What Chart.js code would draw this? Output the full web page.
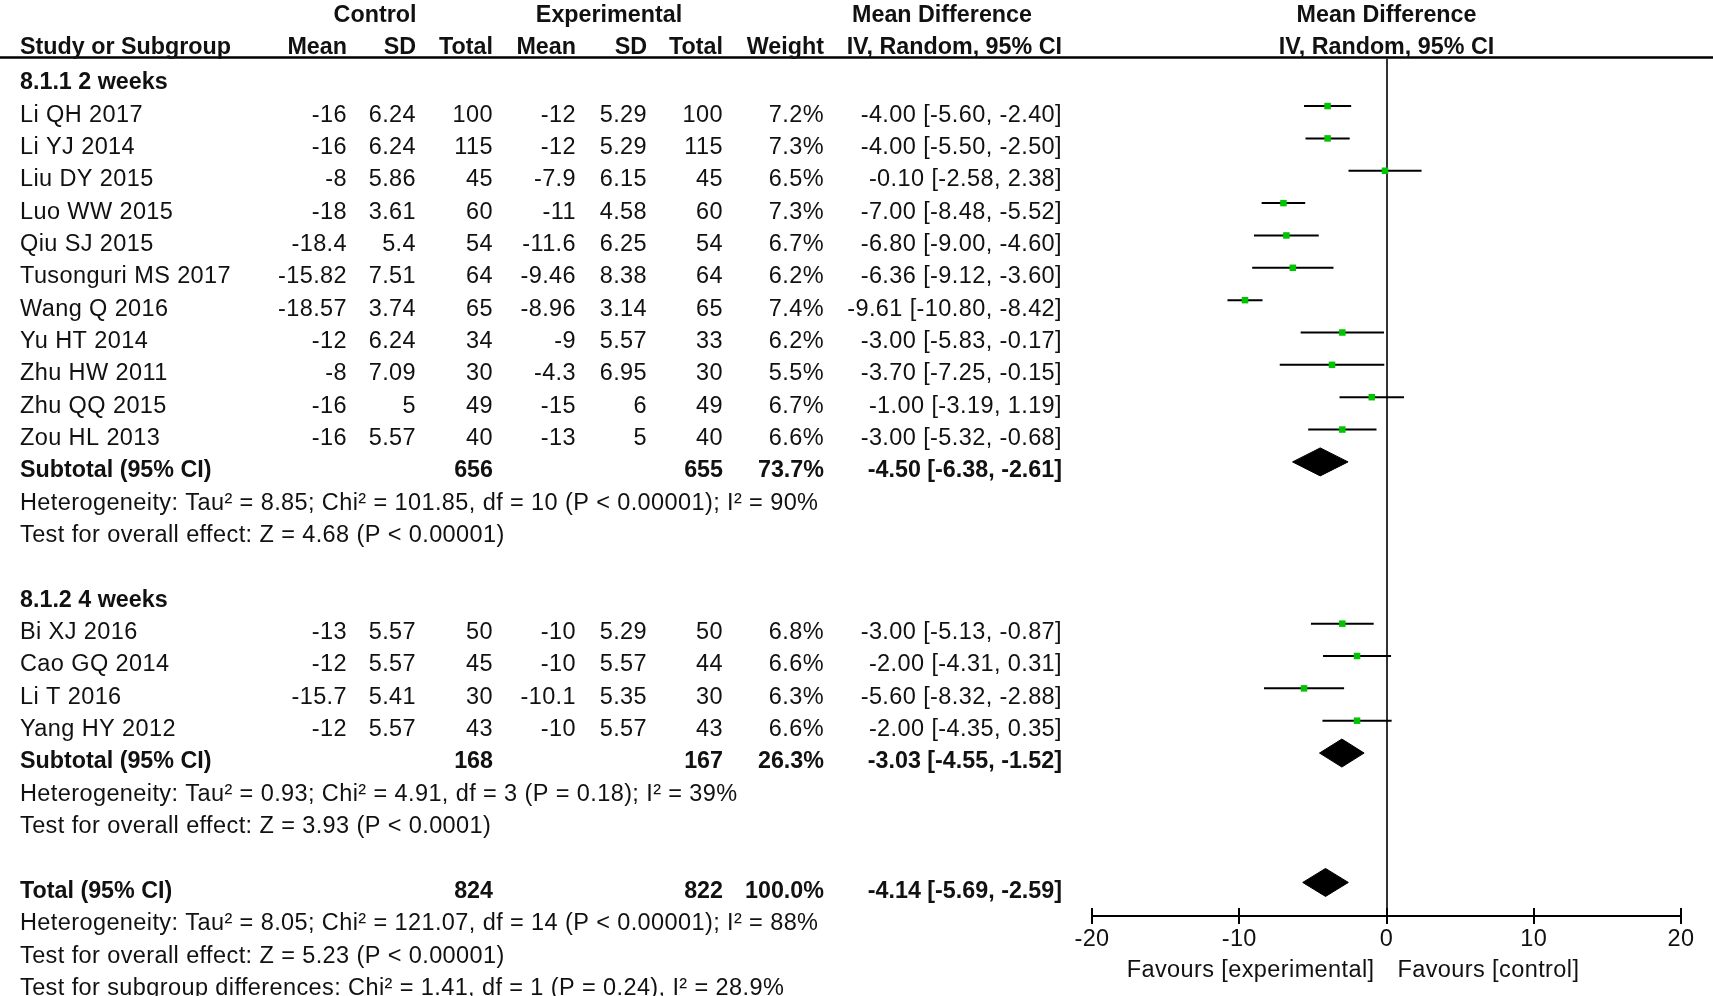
<!DOCTYPE html>
<html>
<head>
<meta charset="utf-8">
<script src="https://cdn.jsdelivr.net/npm/chart.js@4.4.0/dist/chart.umd.min.js"></script>
<style>
html, body { margin: 0; padding: 0; background: #fff; }
#wrap { width: 1713px; height: 996px; position: relative; }
</style>
</head>
<body>
<div id="wrap"><canvas id="forest"></canvas></div>
<script>
// data
var groupTitles = ["8.1.1 2 weeks", "8.1.2 4 weeks"];
var studyNames = ["Li QH 2017", "Li YJ 2014", "Liu DY 2015", "Luo WW 2015", "Qiu SJ 2015", "Tusonguri MS 2017",
    "Wang Q 2016", "Yu HT 2014", "Zhu HW 2011", "Zhu QQ 2015", "Zou HL 2013",
    "Bi XJ 2016", "Cao GQ 2014", "Li T 2016", "Yang HY 2012"];
var studyGroup = [0, 0, 0, 0, 0, 0, 0, 0, 0, 0, 0, 1, 1, 1, 1];
var ctrlMean = [-16, -16, -8, -18, -18.4, -15.82, -18.57, -12, -8, -16, -16, -13, -12, -15.7, -12];
var ctrlSD = [6.24, 6.24, 5.86, 3.61, 5.4, 7.51, 3.74, 6.24, 7.09, 5, 5.57, 5.57, 5.57, 5.41, 5.57];
var ctrlTotal = [100, 115, 45, 60, 54, 64, 65, 34, 30, 49, 40, 50, 45, 30, 43];
var expMean = [-12, -12, -7.9, -11, -11.6, -9.46, -8.96, -9, -4.3, -15, -13, -10, -10, -10.1, -10];
var expSD = [5.29, 5.29, 6.15, 4.58, 6.25, 8.38, 3.14, 5.57, 6.95, 6, 5, 5.29, 5.57, 5.35, 5.57];
var expTotal = [100, 115, 45, 60, 54, 64, 65, 33, 30, 49, 40, 50, 44, 30, 43];
var weights = [7.2, 7.3, 6.5, 7.3, 6.7, 6.2, 7.4, 6.2, 5.5, 6.7, 6.6, 6.8, 6.6, 6.3, 6.6];
var md = [-4.00, -4.00, -0.10, -7.00, -6.80, -6.36, -9.61, -3.00, -3.70, -1.00, -3.00, -3.00, -2.00, -5.60, -2.00];
var ciLow = [-5.60, -5.50, -2.58, -8.48, -9.00, -9.12, -10.80, -5.83, -7.25, -3.19, -5.32, -5.13, -4.31, -8.32, -4.35];
var ciHigh = [-2.40, -2.50, 2.38, -5.52, -4.60, -3.60, -8.42, -0.17, -0.15, 1.19, -0.68, -0.87, 0.31, -2.88, 0.35];

var subCtrlTotal = [656, 168];
var subExpTotal = [655, 167];
var subWeight = [73.7, 26.3];
var subMD = [-4.50, -3.03];
var subLow = [-6.38, -4.55];
var subHigh = [-2.61, -1.52];
var subHetero = ["Heterogeneity: Tau\u00b2 = 8.85; Chi\u00b2 = 101.85, df = 10 (P < 0.00001); I\u00b2 = 90%",
    "Heterogeneity: Tau\u00b2 = 0.93; Chi\u00b2 = 4.91, df = 3 (P = 0.18); I\u00b2 = 39%"];
var subEffect = ["Test for overall effect: Z = 4.68 (P < 0.00001)",
    "Test for overall effect: Z = 3.93 (P < 0.0001)"];

var totalCtrl = 824;
var totalExp = 822;
var totalWeight = 100.0;
var totalMD = -4.14;
var totalLow = -5.69;
var totalHigh = -2.59;
var totalNotes = ["Heterogeneity: Tau\u00b2 = 8.05; Chi\u00b2 = 121.07, df = 14 (P < 0.00001); I\u00b2 = 88%",
    "Test for overall effect: Z = 5.23 (P < 0.00001)",
    "Test for subgroup differences: Chi\u00b2 = 1.41, df = 1 (P = 0.24), I\u00b2 = 28.9%"];

var xTicks = [-20, -10, 0, 10, 20];
var favoursLeft = "Favours [experimental]";
var favoursRight = "Favours [control]";

// ---- layout ----
var ROW = 32.35;
var W = 1713, H = 996;
var PLOT_TOP = 58, PLOT_BOTTOM = 916, PLOT_LEFT = 1092, PLOT_RIGHT = 1681;
var TEXT_DY = 9;
var COL = { name: 20, cMean: 347, cSD: 416, cTot: 493, eMean: 576, eSD: 647, eTot: 723, weight: 824, ci: 1062 };
var FONT = '"Liberation Sans", Arial, sans-serif';

function fmtCI(m, lo, hi) {
    return m.toFixed(2) + " [" + lo.toFixed(2) + ", " + hi.toFixed(2) + "]";
}

// work out which text line each item sits on
var textRows = [];
var studyLine = [];
var subLine = [];
var ln = 2;
for (var g = 0; g < groupTitles.length; g++) {
    textRows.push({ line: ln, bold: true, cells: [[groupTitles[g], COL.name, "left"]] });
    ln++;
    for (var i = 0; i < studyNames.length; i++) {
        if (studyGroup[i] != g) continue;
        studyLine[i] = ln;
        textRows.push({ line: ln, bold: false, cells: [
            [studyNames[i], COL.name, "left"],
            [String(ctrlMean[i]), COL.cMean, "right"],
            [String(ctrlSD[i]), COL.cSD, "right"],
            [String(ctrlTotal[i]), COL.cTot, "right"],
            [String(expMean[i]), COL.eMean, "right"],
            [String(expSD[i]), COL.eSD, "right"],
            [String(expTotal[i]), COL.eTot, "right"],
            [weights[i].toFixed(1) + "%", COL.weight, "right"],
            [fmtCI(md[i], ciLow[i], ciHigh[i]), COL.ci, "right"]
        ] });
        ln++;
    }
    subLine[g] = ln;
    textRows.push({ line: ln, bold: true, cells: [
        ["Subtotal (95% CI)", COL.name, "left"],
        [String(subCtrlTotal[g]), COL.cTot, "right"],
        [String(subExpTotal[g]), COL.eTot, "right"],
        [subWeight[g].toFixed(1) + "%", COL.weight, "right"],
        [fmtCI(subMD[g], subLow[g], subHigh[g]), COL.ci, "right"]
    ] });
    ln++;
    textRows.push({ line: ln, bold: false, cells: [[subHetero[g], COL.name, "left"]] });
    ln++;
    textRows.push({ line: ln, bold: false, cells: [[subEffect[g], COL.name, "left"]] });
    ln += 2;
}
var totalLine = ln;
textRows.push({ line: ln, bold: true, cells: [
    ["Total (95% CI)", COL.name, "left"],
    [String(totalCtrl), COL.cTot, "right"],
    [String(totalExp), COL.eTot, "right"],
    [totalWeight.toFixed(1) + "%", COL.weight, "right"],
    [fmtCI(totalMD, totalLow, totalHigh), COL.ci, "right"]
] });
ln++;
for (var k = 0; k < totalNotes.length; k++) {
    textRows.push({ line: ln, bold: false, cells: [[totalNotes[k], COL.name, "left"]] });
    ln++;
}

// ---- datasets ----
var datasets = [];
var pts = [];
for (var i = 0; i < md.length; i++) pts.push({ x: md[i], y: studyLine[i] });
datasets.push({
    data: pts,
    pointStyle: "rect",
    pointRadius: 4.6,
    backgroundColor: "#00c400",
    borderWidth: 0,
    showLine: false
});

var DH = 14 / ROW;
function diamond(m, lo, hi, y) {
    return {
        data: [{ x: lo, y: y }, { x: m, y: y - DH }, { x: hi, y: y }, { x: m, y: y + DH }, { x: lo, y: y }],
        showLine: true,
        fill: "shape",
        borderColor: "#000",
        backgroundColor: "#000",
        borderWidth: 1,
        pointRadius: 0,
        tension: 0
    };
}
for (var g = 0; g < subMD.length; g++) datasets.push(diamond(subMD[g], subLow[g], subHigh[g], subLine[g]));
datasets.push(diamond(totalMD, totalLow, totalHigh, totalLine));

for (var i = 0; i < md.length; i++) {
    datasets.push({
        data: [{ x: ciLow[i], y: studyLine[i] }, { x: ciHigh[i], y: studyLine[i] }],
        showLine: true,
        borderColor: "#000",
        borderWidth: 2,
        pointRadius: 0
    });
}

// ---- text, header rule, zero line and axis ----
var forestText = {
    id: "forestText",
    beforeDatasetsDraw: function (chart) {
        var ctx = chart.ctx, xs = chart.scales.x, a = chart.chartArea;
        ctx.save();
        ctx.strokeStyle = "#000";
        ctx.lineWidth = 2.5;
        ctx.beginPath();
        ctx.moveTo(0, PLOT_TOP - 0.5);
        ctx.lineTo(W, PLOT_TOP - 0.5);
        ctx.stroke();
        ctx.strokeStyle = "#333";
        ctx.lineWidth = 2;
        var x0 = Math.round(xs.getPixelForValue(0));
        ctx.beginPath();
        ctx.moveTo(x0, a.top);
        ctx.lineTo(x0, a.bottom);
        ctx.stroke();
        ctx.restore();
    },
    afterDraw: function (chart) {
        var ctx = chart.ctx, xs = chart.scales.x, ys = chart.scales.y, a = chart.chartArea;
        ctx.save();
        ctx.fillStyle = "#111";
        ctx.textBaseline = "middle";

        function put(txt, x, y, align, bold) {
            ctx.font = bold ? "bold 23.3px " + FONT : "23.5px " + FONT;
            ctx.letterSpacing = bold ? "0px" : "0.4px";
            ctx.textAlign = align;
            ctx.fillText(txt, x, y);
        }

        var xMid = xs.getPixelForValue(0);
        // column headers
        var h0 = ys.getPixelForValue(0) + TEXT_DY - 2;
        var h1 = ys.getPixelForValue(1) + TEXT_DY - 2.5;
        put("Control", 375, h0, "center", true);
        put("Experimental", 609, h0, "center", true);
        put("Mean Difference", 942, h0, "center", true);
        put("Mean Difference", xMid, h0, "center", true);
        put("Study or Subgroup", COL.name, h1, "left", true);
        put("Mean", COL.cMean, h1, "right", true);
        put("SD", COL.cSD, h1, "right", true);
        put("Total", COL.cTot, h1, "right", true);
        put("Mean", COL.eMean, h1, "right", true);
        put("SD", COL.eSD, h1, "right", true);
        put("Total", COL.eTot, h1, "right", true);
        put("Weight", COL.weight, h1, "right", true);
        put("IV, Random, 95% CI", COL.ci, h1, "right", true);
        put("IV, Random, 95% CI", xMid, h1, "center", true);

        textRows.forEach(function (r) {
            var y = ys.getPixelForValue(r.line) + TEXT_DY;
            r.cells.forEach(function (c) {
                put(c[0], c[1], y, c[2], r.bold);
            });
        });

        // x axis
        var ay = a.bottom;
        ctx.strokeStyle = "#000";
        ctx.lineWidth = 2;
        ctx.beginPath();
        ctx.moveTo(xs.getPixelForValue(xTicks[0]), ay);
        ctx.lineTo(xs.getPixelForValue(xTicks[xTicks.length - 1]), ay);
        xTicks.forEach(function (t) {
            var px = Math.round(xs.getPixelForValue(t));
            ctx.moveTo(px, ay - 8);
            ctx.lineTo(px, ay + 8);
        });
        ctx.stroke();
        xTicks.forEach(function (t) {
            put(String(t), xs.getPixelForValue(t), ay + 24, "center", false);
        });
        put(favoursLeft, xMid - 12, ay + 55, "right", false);
        put(favoursRight, xMid + 11, ay + 55, "left", false);
        ctx.restore();
    }
};

new Chart("forest", {
    type: "scatter",
    data: { datasets: datasets },
    options: {
        responsive: true,
        maintainAspectRatio: false,
        animation: false,
        events: [],
        layout: { padding: { left: PLOT_LEFT, right: W - PLOT_RIGHT, top: PLOT_TOP, bottom: H - PLOT_BOTTOM } },
        plugins: { legend: { display: false }, tooltip: { enabled: false } },
        scales: {
            x: { type: "linear", min: xTicks[0], max: xTicks[xTicks.length - 1], display: false },
            y: { type: "linear", reverse: true, min: (PLOT_TOP - 9) / ROW, max: (PLOT_BOTTOM - 9) / ROW, display: false }
        }
    },
    plugins: [forestText]
});
</script>
</body>
</html>
